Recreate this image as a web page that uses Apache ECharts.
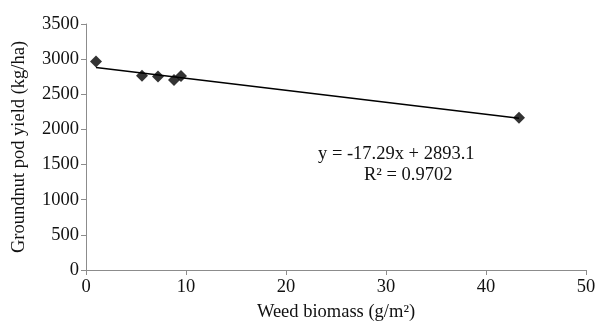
<!DOCTYPE html>
<html>
<head>
<meta charset="utf-8">
<script src="https://cdn.jsdelivr.net/npm/echarts@6/dist/echarts.min.js"></script>
<style>
  html, body { margin: 0; padding: 0; background: #fff; }
  #chart { width: 597px; height: 325px; }
</style>
</head>
<body>
<div id="chart"></div>
<script>
// weed biomass (g/m²) vs groundnut pod yield (kg/ha)
const weedBiomass = [1.0, 5.6, 7.2, 8.8, 9.5, 43.3];
const podYield = [2965, 2765, 2752, 2705, 2760, 2165];
// Excel-style linear trendline, spans the data range
const trendLine = [[1.0, 2880], [43.3, 2158]];
const equationText = 'y = -17.29x + 2893.1';
const r2Text = 'R² = 0.9702';

const FONT = '"Liberation Serif", "Times New Roman", serif';
const FS = 18.5;
const AXIS = '#8c8c8c';
const INK = '#111';

const axisBase = {
  axisLine: { show: true, lineStyle: { color: AXIS, width: 1 } },
  axisTick: { show: true, length: 5, lineStyle: { color: AXIS } },
  axisLabel: { color: INK, fontSize: FS, fontFamily: FONT, formatter: (v) => String(v) },
  splitLine: { show: false },
  nameLocation: 'middle',
  nameTextStyle: { color: INK, fontSize: FS, fontFamily: FONT },
};

const chart = echarts.init(document.getElementById('chart'), null, { renderer: 'canvas' });
chart.setOption({
  animation: false,
  grid: { left: 86, right: 11, top: 24, bottom: 55, outerBoundsMode: 'none' },
  xAxis: {
    type: 'value', min: 0, max: 50, interval: 10,
    name: 'Weed biomass (g/m²)', nameGap: 33,
    ...axisBase,
    axisLabel: { ...axisBase.axisLabel, margin: 8 },
  },
  yAxis: {
    type: 'value', min: 0, max: 3500, interval: 500,
    name: 'Groundnut pod yield (kg/ha)', nameGap: 57,
    ...axisBase,
    axisLabel: { ...axisBase.axisLabel, margin: 7 },
  },
  series: [
    {
      type: 'line',
      data: trendLine,
      showSymbol: false,
      lineStyle: { color: '#000', width: 1.6 },
      silent: true,
      z: 2,
    },
    {
      type: 'scatter',
      data: weedBiomass.map((x, i) => [x, podYield[i]]),
      symbol: 'diamond',
      symbolSize: 12,
      itemStyle: { color: '#000' },
      z: 3,
    },
  ],
  graphic: [
    {
      type: 'text', left: 318, top: 145,
      style: { text: equationText, fill: INK, font: FS + 'px ' + FONT },
    },
    {
      type: 'text', left: 364, top: 166,
      style: { text: r2Text, fill: INK, font: FS + 'px ' + FONT },
    },
  ],
});
</script>
</body>
</html>
